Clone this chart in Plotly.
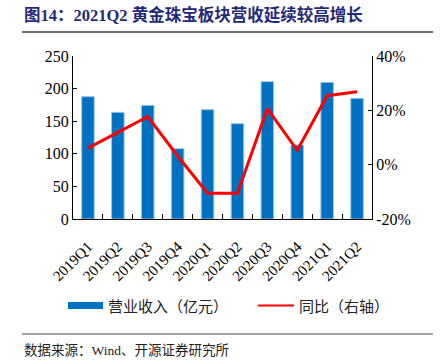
import plotly.graph_objects as go

categories = ["2019Q1", "2019Q2", "2019Q3", "2019Q4", "2020Q1",
              "2020Q2", "2020Q3", "2020Q4", "2021Q1", "2021Q2"]
revenue = [187.6, 163.6, 174.3, 107.8, 167.7, 146.2, 210.6, 113.5, 209.6, 185.1]
yoy = [6.1, 11.9, 17.7, 3.2, -10.5, -10.5, 20.6, 5.3, 25.4, 26.8]

left_ticks = [0, 50, 100, 150, 200, 250]
right_ticks = [-20, 0, 20, 40]
right_labels = ["-20%", "0%", "20%", "40%"]

title_text = "图14：2021Q2 黄金珠宝板块营收延续较高增长"
legend_bar = "营业收入（亿元）"
legend_line = "同比（右轴）"
source_text = "数据来源：Wind、开源证券研究所"

BLUE = "#0070C0"
RED = "#FF0000"
SERIF = "Liberation Serif, Times New Roman, serif"
CJK = "Noto Sans CJK SC, sans-serif"

L, R, T, B = 73, 372, 56, 219
PW, PH = R - L, B - T


def px(x):
    return (x - L) / PW


def py(y):
    return (B - y) / PH


fig = go.Figure()
fig.add_trace(go.Bar(
    x=categories, y=revenue, name=legend_bar,
    marker=dict(color=BLUE, line=dict(color="#9DC3E6", width=1)),
    width=0.42, showlegend=False, yaxis="y",
))
fig.add_trace(go.Scatter(
    x=categories, y=yoy, name=legend_line, mode="lines",
    line=dict(color=RED, width=3), showlegend=False, yaxis="y2",
))

fig.update_layout(
    width=443, height=364,
    margin=dict(l=L, r=443 - R, t=T, b=364 - B, autoexpand=False),
    paper_bgcolor="white", plot_bgcolor="white",
    font=dict(family=SERIF, size=15, color="black"),
    xaxis=dict(
        type="category", tickson="boundaries", ticks="inside", ticklen=5,
        tickcolor="black", showline=True, linecolor="black", linewidth=1,
        tickangle=-45, tickfont=dict(family=SERIF, size=15),
        ticklabelstandoff=12,
        showgrid=False, zeroline=False, automargin=False,
    ),
    yaxis=dict(
        range=[0, 250], tickvals=left_ticks, ticks="inside", ticklen=4,
        tickcolor="black", showline=True, linecolor="black", linewidth=1,
        showgrid=False, zeroline=False, tickfont=dict(family=SERIF, size=16),
        automargin=False,
    ),
    yaxis2=dict(
        range=[-20, 40], tickvals=right_ticks, ticktext=right_labels,
        overlaying="y", side="right", ticks="inside", ticklen=4,
        tickcolor="black", showline=True, linecolor="black", linewidth=1,
        showgrid=False, zeroline=False, tickfont=dict(family=SERIF, size=16),
        automargin=False,
    ),
)

# title and separators
fig.add_annotation(
    xref="paper", yref="paper", x=px(22), y=py(15),
    xanchor="left", yanchor="middle", showarrow=False,
    text="<b>" + title_text + "</b>",
    font=dict(family="Liberation Serif, " + CJK, size=16.5, color="#1F2A78"),
)
fig.add_shape(type="line", xref="paper", yref="paper",
              x0=px(22), x1=px(433), y0=py(32), y1=py(32),
              line=dict(color="#404040", width=1.5))
fig.add_shape(type="line", xref="paper", yref="paper",
              x0=px(22), x1=px(433), y0=py(334), y1=py(334),
              line=dict(color="#808080", width=1.5))
fig.add_annotation(
    xref="paper", yref="paper", x=px(22), y=py(350),
    xanchor="left", yanchor="middle", showarrow=False,
    text=source_text, font=dict(family="Liberation Serif, " + CJK, size=13.5, color="#222222"),
)

# custom legend
ly = 305.5
fig.add_shape(type="rect", xref="paper", yref="paper",
              x0=px(68), x1=px(103), y0=py(ly + 3.5), y1=py(ly - 3.5),
              fillcolor=BLUE, line=dict(width=0))
fig.add_annotation(xref="paper", yref="paper", x=px(106), y=py(ly),
                   xanchor="left", yanchor="middle", showarrow=False,
                   text=legend_bar, font=dict(family=CJK, size=15, color="#222222"))
fig.add_shape(type="line", xref="paper", yref="paper",
              x0=px(258), x1=px(294), y0=py(ly), y1=py(ly),
              line=dict(color=RED, width=2))
fig.add_annotation(xref="paper", yref="paper", x=px(297), y=py(ly),
                   xanchor="left", yanchor="middle", showarrow=False,
                   text=legend_line, font=dict(family=CJK, size=15, color="#222222"))

fig.write_html(
    "out.html",
    config={"displayModeBar": False},
    post_script="document.body.style.margin='0';document.body.style.overflow='hidden';",
)
